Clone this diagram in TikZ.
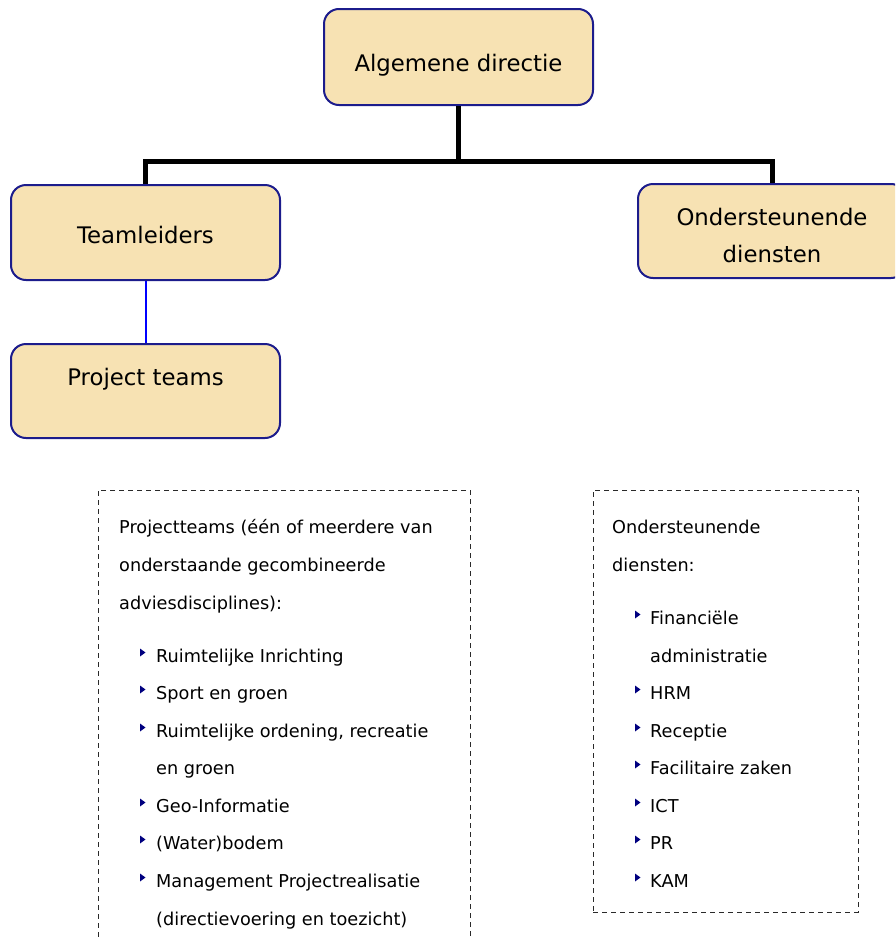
\documentclass[tikz,border=0pt]{standalone}
\usepackage{fontspec}
\setmainfont{DejaVu Sans}
\definecolor{boxfill}{HTML}{F7E2B3}
\definecolor{boxline}{HTML}{1C1C8C}
\definecolor{bulletc}{HTML}{00007F}
\definecolor{dashc}{HTML}{2A2A2A}
\tikzset{
 orgbox/.style={draw=boxline, fill=boxfill, line width=2pt, rounded corners=15pt, minimum width=269pt, minimum height=95pt, inner sep=0pt},
 boxtxt/.style={font=\fontsize{22.8}{27}\selectfont, inner sep=0pt, anchor=base},
 bodytxt/.style={font=\fontsize{17.7}{21}\selectfont, inner sep=0pt, anchor=base west},
 trunk/.style={line width=5pt, black},
 sublink/.style={line width=2pt, blue},
 dashbox/.style={draw=dashc, line width=1pt, dash pattern=on 5pt off 4pt, inner sep=0pt}
}
\newcommand{\bul}[2]{\fill[bulletc] (#1,#2-13.5) -- (#1,#2-5.5) -- (#1+5.5,#2-9.5) -- cycle;}
\begin{document}
\begin{tikzpicture}[x=1pt,y=-1pt]
\useasboundingbox (0,0) rectangle (895,940);
\begin{scope}
\clip (0,0) rectangle (895,940);
% boxes
\node[orgbox, minimum height=96pt] (top) at (458.5,57) {};
\node[orgbox] (tl) at (145.5,232.5) {};
\node[orgbox, minimum height=94pt] (pt) at (145.5,391) {};
\node[orgbox, minimum width=268pt, minimum height=94pt] (od) at (772,231) {};
% connectors
\coordinate (hub) at (458.5,161);
\draw[trunk] (top.south) -- (hub);
\draw[trunk, line join=miter] (tl.north) |- (hub) -| (od.north);
\draw[sublink] (tl.south) -- (pt.north);
% box texts
\node[boxtxt] (ttop) at (458.5,71) {Algemene directie};
\node[boxtxt] (ttl) at (145.5,243) {Teamleiders};
\node[boxtxt] (tpt) at (145.5,385) {Project teams};
\node[boxtxt] (tod1) at (772,225) {Ondersteunende};
\node[boxtxt] (tod2) at (772,262) {diensten};
% dashed containers
\node[dashbox, minimum width=372pt, minimum height=470pt] (lbox) at (284,725) {};
\node[dashbox, minimum width=265pt, minimum height=422pt] (rbox) at (725.5,701) {};
% left list
\node[bodytxt] (l1) at (119,533) {Projectteams (één of meerdere van};
\node[bodytxt] (l2) at (119,571) {onderstaande gecombineerde};
\node[bodytxt] (l3) at (119,609) {adviesdisciplines):};
\node[bodytxt] (li1) at (156,662) {Ruimtelijke Inrichting}; \bul{140}{662}
\node[bodytxt] (li2) at (156,699) {Sport en groen}; \bul{140}{699}
\node[bodytxt] (li3) at (156,737) {Ruimtelijke ordening, recreatie}; \bul{140}{737}
\node[bodytxt] (li3b) at (156,774) {en groen};
\node[bodytxt] (li4) at (156,812) {Geo-Informatie}; \bul{140}{812}
\node[bodytxt] (li5) at (156,849) {(Water)bodem}; \bul{140}{849}
\node[bodytxt] (li6) at (156,887) {Management Projectrealisatie}; \bul{140}{887}
\node[bodytxt] (li6b) at (156,925) {(directievoering en toezicht)};
% right list
\node[bodytxt] (r1) at (612,533) {Ondersteunende};
\node[bodytxt] (r2) at (612,571) {diensten:};
\node[bodytxt] (ri1) at (650,624) {Financiële}; \bul{635}{624}
\node[bodytxt] (ri1b) at (650,662) {administratie};
\node[bodytxt] (ri2) at (650,699) {HRM}; \bul{635}{699}
\node[bodytxt] (ri3) at (650,737) {Receptie}; \bul{635}{737}
\node[bodytxt] (ri4) at (650,774) {Facilitaire zaken}; \bul{635}{774}
\node[bodytxt] (ri5) at (650,812) {ICT}; \bul{635}{812}
\node[bodytxt] (ri6) at (650,849) {PR}; \bul{635}{849}
\node[bodytxt] (ri7) at (650,887) {KAM}; \bul{635}{887}
\end{scope}
\end{tikzpicture}
\end{document}
